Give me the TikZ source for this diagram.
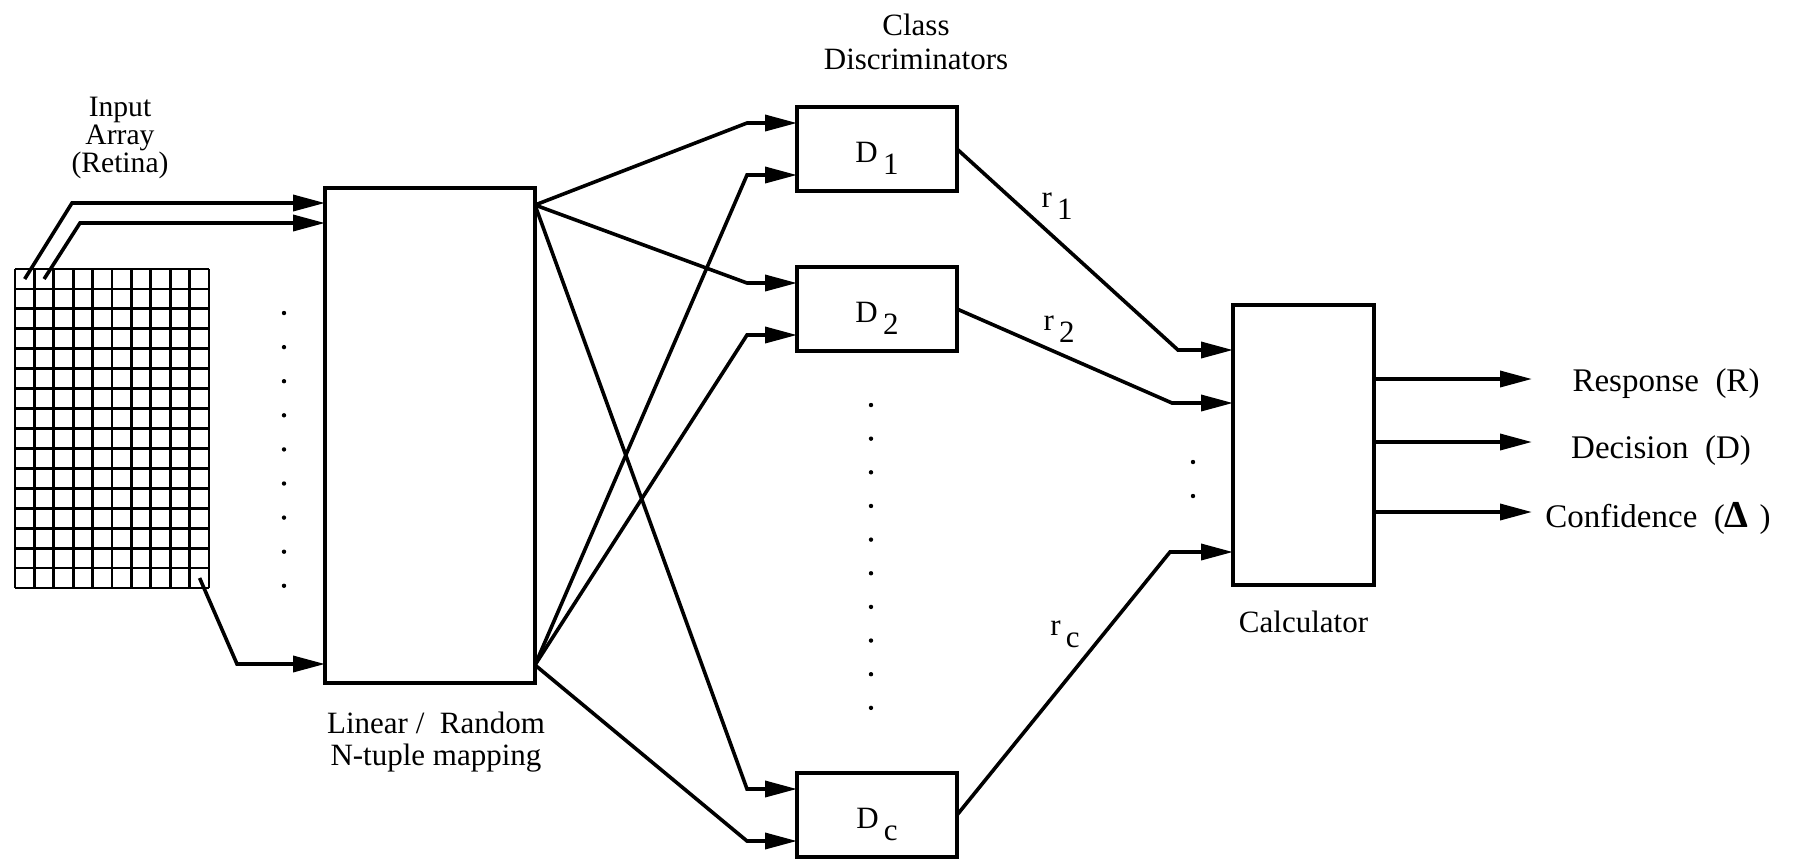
\documentclass[tikz,border=0pt]{standalone}
\usepackage{fontspec}
\setmainfont{Liberation Serif}
\usetikzlibrary{arrows.meta,calc}
\newcommand{\lowsub}[1]{\,\raisebox{-6pt}{#1}}
\newcommand{\setfs}[2]{\fontsize{#1}{#2}\selectfont}
\begin{document}
\begin{tikzpicture}[x=0.5pt,y=-0.5pt,
  box/.style={draw,line width=1.7pt,inner sep=0pt,outer sep=0pt},
  txt/.style={font=\setfs{15.5pt}{17pt},inner sep=0pt},
  outtxt/.style={font=\setfs{16.5pt}{18pt},inner sep=0pt,anchor=base},
  dbox/.style={box,txt,minimum width=80pt,minimum height=42pt,text height=13.5pt,text depth=0pt},
  conn/.style={line width=1.8pt},
  arr/.style={conn,-{Triangle[length=16pt,width=8pt]}},
  gridl/.style={line width=1.4pt},
  dotm/.style={fill=black}]
\useasboundingbox (0,0) rectangle (1796,859);

% retina: 10 x 16 cells
\foreach \i in {0,...,10} \draw[gridl] ({15+19.4*\i},269) -- ({15+19.4*\i},588);
\foreach \j in {0,...,16} \draw[gridl] (15,{269+19.9375*\j}) -- (209,{269+19.9375*\j});
\coordinate (g00) at (24.7,279);
\coordinate (g10) at (44.1,279);
\coordinate (g915) at (199.6,578);

% blocks
\node[box,minimum width=105pt,minimum height=247.5pt] (map) at (430,435.5) {};
\node[dbox] (d1) at (877,149) {D\lowsub{1}};
\node[dbox] (d2) at (877,309) {D\lowsub{2}};
\node[dbox] (dc) at (877,815) {D\lowsub{c}};
\node[box,minimum width=70.5pt,minimum height=140pt] (calcbox) at (1303.5,445) {};

% labels
\node[txt,align=center,font=\setfs{14.8pt}{14pt}] (inlab) at (120,138) {Input\\Array\\(Retina)};
\node[txt,align=center,font=\setfs{15.5pt}{17pt}] (classlab) at (916,42) {Class\\Discriminators};
\node[txt,align=center,font=\setfs{15.5pt}{16pt}] (maplab) at (436,742) {Linear /\ \ Random\\N-tuple mapping};
\node[txt] (calclab) at ($(calcbox.south)+(0,37)$) {Calculator};
\node[txt] (r1) at (1057,206) {r\lowsub{1}};
\node[txt] (r2) at (1059,329) {r\lowsub{2}};
\node[txt] (rc) at (1065,634) {r\lowsub{c}};

% retina to mapping
\coordinate (in1) at ($(map.north west)+(0,15)$);
\coordinate (in2) at ($(map.north west)+(0,35)$);
\coordinate (in3) at ($(map.south west)+(0,-19)$);
\draw[arr] (g00) -- ($(in1)+(-253,0)$) -- (in1);
\draw[arr] (g10) -- ($(in2)+(-245,0)$) -- (in2);
\draw[arr] (g915) -- ($(in3)+(-88,0)$) -- (in3);

% mapping to discriminators
\coordinate (f1) at ($(map.north east)+(0,17)$);
\coordinate (f2) at ($(map.south east)+(0,-18)$);
\foreach \d in {d1,d2,dc} {
  \coordinate (\d a) at ($(\d.north west)+(0,16)$);
  \coordinate (\d b) at ($(\d.south west)+(0,-16)$);
  \draw[arr] (f1) -- ($(\d a)+(-50,0)$) -- (\d a);
  \draw[arr] (f2) -- ($(\d b)+(-50,0)$) -- (\d b);
}

% discriminators to calculator
\coordinate (c1) at ($(calcbox.north west)+(0,45)$);
\coordinate (c2) at ($(calcbox.north west)+(0,98)$);
\coordinate (c3) at ($(calcbox.north west)+(0,247)$);
\draw[arr] (d1.east) -- ($(c1)+(-55,0)$) -- (c1);
\draw[arr] (d2.east) -- ($(c2)+(-61,0)$) -- (c2);
\draw[arr] (dc.east) -- ($(c3)+(-63,0)$) -- (c3);

% outputs
\coordinate (o1) at ($(calcbox.north east)+(0,74)$);
\coordinate (o2) at ($(calcbox.north east)+(0,137)$);
\coordinate (o3) at ($(calcbox.north east)+(0,207)$);
\coordinate (e1) at ($(o1)+(158,0)$);
\coordinate (e2) at ($(o2)+(158,0)$);
\coordinate (e3) at ($(o3)+(158,0)$);
\draw[arr] (o1) -- (e1);
\draw[arr] (o2) -- (e2);
\draw[arr] (o3) -- (e3);
\node[outtxt] (resp) at ($(e1)+(134,12)$) {Response\ \ (R)};
\node[outtxt] (dec) at ($(e2)+(129,16)$) {Decision\ \ (D)};
\node[outtxt] (conf) at ($(e3)+(126,15)$) {Confidence\ \ ({\bfseries\fontsize{19pt}{19pt}\selectfont Δ}\,\,)};

% ellipsis dots
\foreach \k in {0,...,8} \fill[dotm] (284,{313+34.1*\k}) circle (1.1pt);
\foreach \k in {0,...,9} \fill[dotm] (871,{405+33.65*\k}) circle (1.1pt);
\fill[dotm] (1193,462) circle (1.1pt);
\fill[dotm] (1193,496) circle (1.1pt);
\end{tikzpicture}
\end{document}
